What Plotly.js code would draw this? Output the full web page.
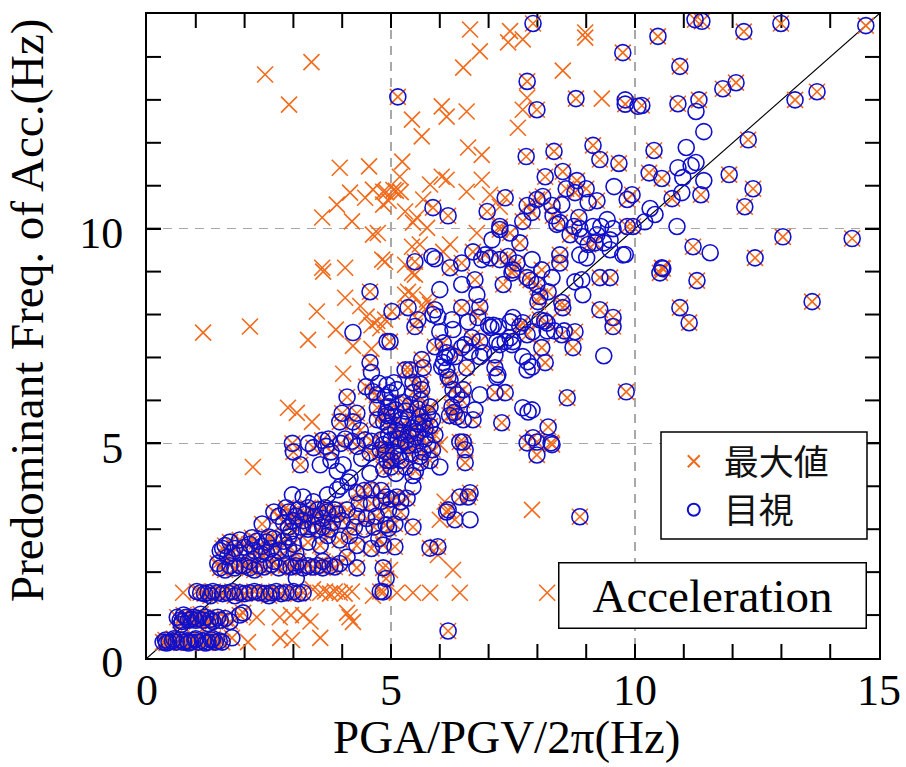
<!DOCTYPE html>
<html>
<head>
<meta charset="utf-8">
<script src="https://cdn.plot.ly/plotly-3.0.1.min.js"></script>
<style>html,body{margin:0;padding:0;background:#fff;}#chart{width:906px;height:767px;}</style>
</head>
<body>
<div id="chart"></div>
<script>
// ---- Data ----
const bothX = [
7.91,9.75,7.79,5.14,8.79,9.80,7.99,7.77,8.34,9.14,
9.28,9.67,5.86,6.17,7.34,6.97,8.16,8.52,8.81,8.59,
8.77,9.00,9.22,8.11,7.99,7.79,7.89,8.30,8.32,8.46,
8.85,9.84,9.94,9.84,7.70,7.23,
11.23,11.37,12.99,14.73,10.47,12.23,10.92,11.80,12.07,13.28,
13.73,10.14,10.88,11.31,12.32,10.39,10.29,10.55,11.93,12.42,
11.35,10.76,12.25,9.96,
13.03,14.45,11.19,12.46,10.55,10.57,10.51,11.27,13.63,10.92,
11.11,9.82,
7.23,7.44,7.64,8.67,9.04,9.18,6.68,6.93,7.23,7.40,
7.58,7.50,5.49,6.21,6.45,6.72,7.30,7.48,7.79,7.86,
7.99,8.09,8.22,8.05,8.01,8.46,8.46,9.28,9.49,8.50,
8.52,9.28,9.55,9.55,5.02,5.35,5.55,5.49,6.45,6.82,
6.78,7.64,7.70,8.05,8.20,8.77,8.50,7.79,4.98,6.07,
5.90,6.66,6.82,8.09,8.16,8.73,7.13,6.55,6.17,6.21,
5.63,5.66,5.39,5.29,5.45,5.60,5.63,5.45,6.27,6.35,
6.48,6.45,7.13,7.34,8.61,8.22,7.27,6.68,6.25,6.30,
6.20,6.35,6.48,6.41,7.91,7.99,7.79,8.28,
4.57,4.57,4.49,4.63,4.71,4.10,4.00,4.30,3.95,4.22,
4.37,4.72,4.72,4.92,
5.40,5.55,5.60,5.05,5.30,5.75,4.90,5.50,5.15,5.20,
5.45,5.70,4.84,5.20,5.50,5.75,5.00,5.30,4.85,6.52,
6.52,7.99,8.30,5.05,5.40,
4.95,5.10,5.25,5.35,5.55,5.65,5.80,5.90,5.00,5.25,
5.60,5.80,4.90,5.15,5.60,5.85,5.00,5.50,5.80,5.35,
4.90,5.00,5.12,5.20,5.33,4.95,5.08,5.20,5.45,4.95,
6.62,6.41,6.58,6.17,6.14,6.31,8.87,4.84,5.08,5.80,
5.96,4.84,4.90,4.84,6.17,
3.00,3.41,3.67,3.77,3.97,4.31,4.57,4.78,4.92,3.14,
2.98,3.59,4.20,4.60,2.36,
2.70,2.90,3.10,3.30,3.50,3.70,3.90,2.80,3.00,3.20,
3.40,3.60,3.80,3.15,3.50,
2.60,2.85,3.05,3.25,3.45,3.65,3.85,2.90,3.30,3.60,
4.00,4.10,
4.30,4.45,4.60,4.80,4.35,4.60,4.80,4.30,4.50,4.70,
4.25,4.65,4.90,
1.55,1.70,1.90,2.10,2.25,2.45,2.60,2.80,3.00,3.05,
2.70,2.45,1.90,1.65,
1.60,1.80,2.00,2.20,2.35,2.55,2.90,2.15,2.50,2.90,
1.75,2.35,
3.30,3.55,3.70,3.95,4.15,4.30,4.60,4.75,
1.50,1.70,1.90,2.10,2.30,2.55,2.85,3.05,3.30,3.50,
3.75,3.95,4.10,4.30,
1.60,1.80,2.00,2.20,2.40,2.70,2.95,3.20,3.40,3.60,
3.85,1.45,2.10,2.60,3.10,3.60,
1.10,1.25,1.45,1.65,1.90,2.10,2.30,2.55,2.85,3.20,
4.78,
1.02,1.18,1.35,1.55,1.75,2.00,2.20,2.42,2.65,2.75,
3.00,3.10,1.30,1.80,2.50,
0.68,0.80,0.90,1.00,1.15,1.30,1.50,1.70,0.75,1.90,
1.97,
0.62,0.72,0.85,0.95,1.05,1.20,1.35,1.45,1.60,1.10,
0.70,1.25,
0.33,0.45,0.60,0.75,0.90,1.05,1.25,1.40,1.54,1.74,
0.38,0.52,0.68,0.82,0.98,1.15,1.32,1.48,0.40,0.85,
1.20,0.55,1.00,1.35
];
const bothY = [
14.78,14.10,13.43,13.07,13.03,12.90,12.77,11.68,11.80,11.94,
11.61,11.52,10.49,10.30,10.72,10.40,11.21,11.33,11.12,10.93,
10.84,10.93,10.65,10.75,10.68,10.54,10.38,10.54,10.30,10.14,
10.26,10.68,10.79,10.05,10.17,10.05,
14.87,14.83,14.78,14.73,14.48,14.59,13.78,13.26,13.40,13.00,
13.19,12.87,12.91,13.00,12.07,11.82,11.30,11.17,11.26,10.93,
10.79,10.70,10.51,10.05,
9.81,9.77,9.58,9.32,9.09,9.07,8.97,8.79,8.30,8.16,
7.81,6.20,
9.98,9.90,9.67,9.86,9.63,9.67,9.46,9.39,9.28,9.35,
9.20,9.04,9.23,9.09,9.20,8.81,8.70,8.97,8.86,8.80,
8.70,9.04,8.53,8.42,8.30,9.39,9.20,8.86,8.86,8.28,
8.16,8.11,7.93,7.72,8.07,8.16,7.88,7.72,8.16,8.18,
7.93,7.72,7.81,7.88,7.80,7.60,7.53,7.53,7.37,7.34,
7.25,7.46,7.37,7.23,6.88,7.23,6.76,6.76,6.55,6.48,
6.95,6.76,6.71,6.71,6.41,6.38,6.25,6.18,6.25,6.13,
6.25,6.01,6.18,6.18,6.06,5.38,5.48,5.55,5.85,5.72,
5.65,5.62,5.03,5.03,5.13,5.03,5.01,5.01,
8.53,6.88,6.32,6.20,6.13,6.08,5.70,5.70,5.50,5.50,
5.30,5.83,5.55,5.65,
5.90,5.80,5.62,5.62,5.75,5.70,5.70,5.15,5.10,5.25,
5.35,5.35,4.97,4.97,4.97,4.97,4.60,4.45,4.40,4.85,
4.55,4.73,4.97,4.80,4.75,
5.40,5.30,5.45,5.20,5.25,5.50,5.40,5.20,5.95,5.95,
6.00,5.85,4.80,4.70,4.70,4.85,4.45,4.35,4.60,4.95,
3.75,3.70,3.75,3.64,3.72,3.45,3.12,3.40,3.05,3.02,
3.85,3.75,3.75,3.45,3.40,3.22,3.29,2.63,2.59,2.56,
2.59,2.10,1.85,1.54,0.63,
4.80,4.90,4.93,4.80,5.00,4.93,4.78,4.85,4.60,4.50,
5.00,5.07,5.05,5.05,3.12,
3.30,3.40,3.45,3.50,3.45,3.40,3.35,3.15,3.20,3.20,
3.10,3.25,3.15,3.05,3.00,
3.40,3.50,3.30,3.35,3.30,3.50,3.45,3.05,3.00,3.05,
3.20,3.45,
3.85,3.90,3.92,3.90,3.60,3.60,3.65,3.30,3.25,3.30,
3.05,3.05,3.10,
2.55,2.70,2.75,2.65,2.72,2.70,2.78,2.72,2.65,2.45,
2.50,2.45,2.45,2.35,
2.62,2.55,2.58,2.50,2.60,2.55,2.55,2.80,2.82,2.82,
2.45,2.42,
2.70,2.62,2.85,2.75,2.85,2.62,2.55,2.78,
2.10,2.15,2.15,2.10,2.15,2.18,2.15,2.15,2.15,2.15,
2.15,2.20,2.35,2.10,
2.05,2.10,2.15,2.05,2.12,2.10,2.12,2.10,2.12,2.10,
2.12,2.20,2.25,2.25,2.25,2.25,
1.52,1.52,1.52,1.52,1.52,1.52,1.52,1.52,1.52,1.52,
1.55,
1.55,1.50,1.55,1.50,1.55,1.50,1.55,1.50,1.55,1.50,
1.55,1.50,1.45,1.45,1.45,
0.88,0.95,0.90,0.88,0.88,0.90,0.88,0.85,1.00,1.00,
1.05,
0.95,0.85,0.88,0.95,0.92,0.95,0.85,0.95,0.92,1.02,
0.78,0.80,
0.37,0.37,0.37,0.37,0.37,0.37,0.37,0.37,0.37,0.47,
0.42,0.40,0.42,0.40,0.42,0.40,0.42,0.40,0.35,0.35,
0.35,0.45,0.45,0.45
];
const visOnlyX = [
9.80,10.06,9.57,9.04,8.50,9.43,8.75,9.30,11.25,11.41,
11.05,10.88,11.15,11.25,10.98,11.41,10.96,10.31,10.41,10.20,
10.86,11.54,9.80,7.07,8.40,8.87,9.14,9.55,8.93,9.22,
9.49,9.36,9.49,9.75,8.87,9.01,7.03,6.86,5.84,5.90,
6.45,6.00,6.76,8.30,7.89,8.77,8.91,8.93,5.90,5.96,
5.86,6.25,6.27,6.58,6.00,7.00,7.10,7.20,7.05,7.44,
7.50,8.15,7.90,8.20,8.35,8.55,7.44,7.34,7.50,7.17,
7.23,7.48,6.45,6.52,6.14,6.20,6.10,6.31,6.82,6.90,
6.62,7.13,7.70,7.80,7.89,7.79,9.36,7.17,7.19,6.04,
6.07,6.14,5.06,5.12,4.98,4.88,6.82,7.70,7.81,7.89,
6.72,6.48,5.20,5.10,4.95,5.85,4.85,5.70,5.30,5.00,
4.95,5.45,6.00,6.62,4.22,4.92,4.92,3.31,3.72,4.06,
4.47,4.80,3.55,4.02,3.90,4.16,4.57,3.77,4.40,2.98,
3.20,3.41,3.70,3.90,3.97,4.12,3.75,2.95,4.45,3.06,
1.50,5.20,5.60,5.45,5.10,5.65,5.35,5.55,4.75,4.60
];
const visOnlyY = [
13.00,12.85,10.98,10.61,10.56,10.21,10.05,10.05,12.73,12.26,
11.89,11.42,11.47,11.54,11.19,11.12,10.84,10.47,10.33,10.16,
10.05,9.44,9.40,9.74,10.10,10.00,10.05,10.00,9.81,9.86,
9.74,9.67,9.51,9.39,9.39,9.32,9.32,9.28,9.35,9.30,
8.70,8.58,8.46,8.86,9.28,8.76,8.81,8.46,8.11,7.95,
8.00,7.88,7.65,7.83,7.60,7.75,7.75,7.72,7.70,7.83,
7.93,7.85,7.60,7.62,7.62,7.62,7.46,7.37,7.37,7.37,
7.30,7.30,7.23,7.30,7.11,7.04,7.00,7.02,7.02,7.11,
7.13,7.06,7.02,6.90,6.78,6.71,7.04,6.55,6.60,6.78,
6.88,6.71,6.41,6.25,6.18,6.08,6.13,5.83,5.73,5.78,
5.78,5.55,5.55,5.78,5.85,5.55,5.50,5.10,5.05,5.08,
5.20,3.99,4.45,3.22,7.58,7.37,6.36,5.00,5.10,5.10,
5.08,5.08,4.50,4.50,4.35,4.20,4.30,4.60,4.65,3.80,
3.75,3.64,3.80,3.92,4.00,4.10,3.00,2.95,3.00,1.86,
2.50,4.60,4.55,4.25,4.30,4.80,5.60,5.45,6.40,6.65
];
const maxOnlyX = [
2.42,3.37,2.91,3.95,4.55,4.16,3.89,4.47,4.63,4.84,
4.84,3.59,4.20,
6.62,7.44,7.40,7.70,8.98,8.98,6.82,6.48,8.52,7.79,
9.32,7.70,6.04,6.14,6.55,5.43,5.63,7.60,6.58,6.86,
5.23,5.18,6.04,6.14,5.80,6.86,6.55,7.03,4.90,5.10,
5.20,4.95,5.05,5.66,5.29,5.53,7.23,
5.45,5.74,6.76,5.43,5.59,6.21,6.07,4.88,4.82,5.29,
5.49,5.43,5.35,5.45,5.29,5.74,5.80,5.66,4.88,
1.15,2.11,3.59,3.61,4.06,4.63,4.73,4.06,3.48,4.37,
4.50,4.60,4.72,4.78,3.87,3.30,4.22,4.02,2.89,3.07,
3.38,
6.00,5.96,6.27,4.98,6.00,6.10,7.89,5.12,5.45,5.80,
6.41,8.20,2.17,0.74,3.55,3.65,3.75,3.85,3.95,4.05,
4.20,4.63,3.40,2.25,2.72,2.95,3.20,3.35,4.10,4.22,
4.15,2.07,2.73,2.97,3.55,4.60,6.41,4.70
];
const maxOnlyY = [
13.59,13.88,12.89,11.42,11.45,10.84,10.56,10.72,10.91,10.86,
10.56,10.26,10.17,
14.64,14.60,14.34,14.41,14.57,14.45,14.13,13.75,13.68,13.05,
13.03,12.77,12.85,12.61,12.73,12.54,12.15,12.35,11.89,11.72,
11.56,11.21,11.21,11.14,11.03,11.14,10.86,10.79,10.85,10.88,
10.85,10.65,10.90,10.68,10.40,10.26,10.51,
10.14,10.02,9.90,9.58,9.63,9.63,9.46,9.23,9.28,9.16,
8.93,8.97,8.53,8.46,8.46,8.35,8.23,8.18,7.88,
7.58,7.72,9.09,9.00,9.09,9.86,9.90,8.39,8.07,8.20,
7.95,7.75,7.85,7.68,7.65,7.41,7.27,6.62,5.83,5.71,
5.50,
4.97,2.40,2.05,2.05,3.22,3.64,3.45,1.52,1.52,1.52,
1.52,1.52,4.45,1.52,1.52,1.55,1.50,1.55,1.52,1.50,
1.55,1.45,1.60,0.95,0.95,1.00,1.00,0.85,1.05,0.84,
0.95,0.37,0.47,0.42,0.47,7.20,7.11,4.95
];
const refLine = [0, 15];
const axisRange = [0, 15];
const majorStep = 5;
const minorStep = 1;
const seriesNames = ['最大値', '目視'];
const xTitle = 'PGA/PGV/2π(Hz)';
const yTitle = 'Predominant Freq. of Acc.(Hz)';
const boxLabel = 'Acceleration';

const orange = '#F26A1B';
const blue = '#1010CC';
const serif = 'Liberation Serif, Times New Roman, serif';

const traceMax = {
  type: 'scatter', mode: 'markers', name: seriesNames[0],
  x: bothX.concat(maxOnlyX), y: bothY.concat(maxOnlyY),
  marker: {symbol: 'x-thin-open', size: 16, color: orange, line: {color: orange, width: 1.6}}
};
const traceVis = {
  type: 'scatter', mode: 'markers', name: seriesNames[1],
  x: bothX.concat(visOnlyX), y: bothY.concat(visOnlyY),
  marker: {symbol: 'circle-open', size: 16, color: blue, line: {color: blue, width: 1.6}}
};
const traceRef = {
  type: 'scatter', mode: 'lines', x: refLine, y: refLine, showlegend: false,
  line: {color: 'black', width: 1.2}, hoverinfo: 'skip'
};

// Inward unit tick marks on all four sides (each 14 px long), one trace per side
const plotW = 906 - 147 - 27, plotH = 767 - 14 - 109;
const tickPx = 14;
const span = axisRange[1] - axisRange[0];
const tlx = tickPx * span / plotW, tly = tickPx * span / plotH;
const tickPos = [];
for (let v = axisRange[0] + minorStep; v < axisRange[1] - 1e-9; v += minorStep) tickPos.push(v);
function seg(xa, ya) { return {x: xa, y: ya}; }
const sides = [
  seg(tickPos.flatMap(v => [v, v, null]), tickPos.flatMap(() => [axisRange[0], axisRange[0] + tly, null])),
  seg(tickPos.flatMap(v => [v, v, null]), tickPos.flatMap(() => [axisRange[1], axisRange[1] - tly, null])),
  seg(tickPos.flatMap(() => [axisRange[0], axisRange[0] + tlx, null]), tickPos.flatMap(v => [v, v, null])),
  seg(tickPos.flatMap(() => [axisRange[1], axisRange[1] - tlx, null]), tickPos.flatMap(v => [v, v, null]))
];
const tickTraces = sides.map(s => ({
  type: 'scatter', mode: 'lines', x: s.x, y: s.y, showlegend: false, hoverinfo: 'skip',
  line: {color: '#000000', width: 2, simplify: false}
}));

const shapes = [{type: 'rect', xref: 'paper', yref: 'paper', x0: 0.7022, x1: 0.9836, y0: 0.1848, y1: 0.3509,
  line: {color: 'black', width: 1.5}, fillcolor: 'white', layer: 'above'}];

function axis(extra) {
  return Object.assign({
    range: axisRange, tickmode: 'linear', tick0: 0, dtick: majorStep,
    ticks: 'inside', ticklen: 14, tickwidth: 2, tickcolor: '#000000',
    showline: true, linewidth: 2, linecolor: 'black', mirror: 'allticks',
    showgrid: true, gridcolor: '#a8a8a8', gridwidth: 1.2, griddash: '9px,7px',
    zeroline: false, fixedrange: true,
    tickfont: {family: serif, size: 44, color: 'black'}
  }, extra);
}

const layout = {
  width: 906, height: 767,
  margin: {l: 147, r: 27, t: 14, b: 109, pad: 0},
  paper_bgcolor: 'white', plot_bgcolor: 'white',
  showlegend: true,
  xaxis: axis({ticklabelstandoff: -8}),
  yaxis: axis({ticklabelstandoff: 13, ticklabelshift: 4}),
  legend: {
    x: 0.706, xanchor: 'left', y: 0.351, yanchor: 'top',
    bgcolor: 'rgba(0,0,0,0)', borderwidth: 0,
    font: {family: 'Noto Sans CJK JP, sans-serif', size: 35, color: '#111'},
    itemwidth: 50, tracegroupgap: 0, itemsizing: 'constant'
  },
  shapes: shapes,
  annotations: [
    {xref: 'paper', yref: 'paper', x: 0.492, y: -0.122, xanchor: 'center', yanchor: 'middle',
     text: xTitle, showarrow: false, font: {family: serif, size: 47, color: 'black'}},
    {xref: 'paper', yref: 'paper', x: -0.163, y: 0.54, xanchor: 'center', yanchor: 'middle',
     text: yTitle, textangle: -90, showarrow: false, font: {family: serif, size: 47, color: 'black'}},
    {xref: 'paper', yref: 'paper', x: 0.772, y: 0.0963, xanchor: 'center', yanchor: 'middle',
     text: boxLabel, showarrow: false, width: 306, height: 64, borderpad: 0,
     bordercolor: 'black', borderwidth: 1.5, bgcolor: 'white',
     font: {family: serif, size: 47, color: 'black'}}
  ]
};

Plotly.newPlot('chart', [traceRef].concat(tickTraces, [traceMax, traceVis]), layout, {displayModeBar: false, staticPlot: true});
</script>
</body>
</html>
